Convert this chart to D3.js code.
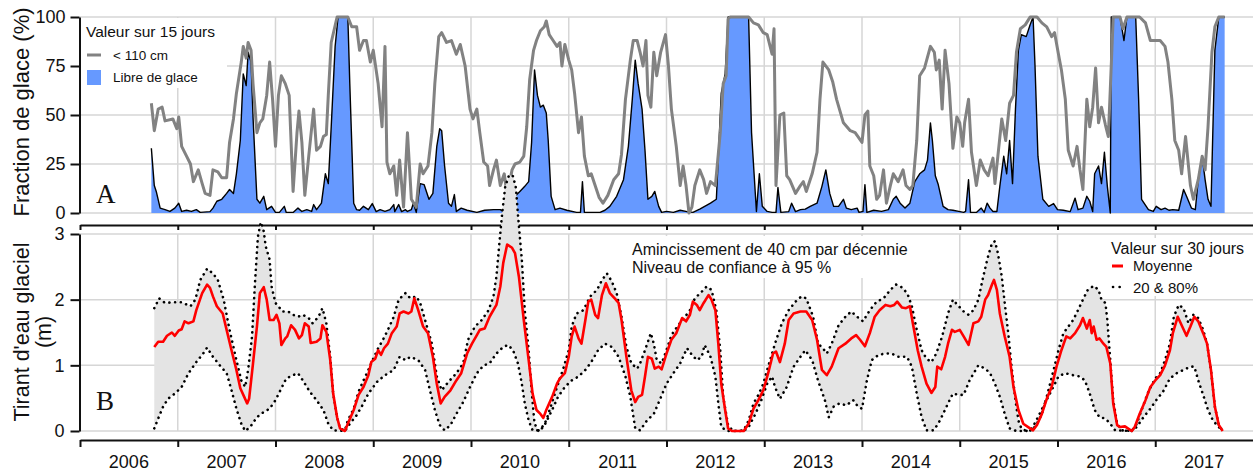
<!DOCTYPE html>
<html>
<head>
<meta charset="utf-8">
<script src="https://cdn.jsdelivr.net/npm/d3@7"></script>
<style>
  body { margin: 0; background: #fff; }
  svg { display: block; font-family: "Liberation Sans", Arial, sans-serif; }
</style>
</head>
<body>
<svg id="chart" width="1253" height="473"></svg>
<script>
// tick values
var pctTicks = [0, 25, 50, 75, 100];
var draftTicks = [0, 1, 2, 3];
var yearTicks = d3.range(2006, 2018);
var yearLabels = ["2006", "2007", "2008", "2009", "2010", "2011", "2012", "2013", "2014", "2015", "2016", "2017"];

// panel A : 15 day values, [decimal year, %]
var below110 = [[2006.73,56],[2006.76,42],[2006.80,53],[2006.84,54],[2006.87,47],[2006.95,48],[2006.99,43],[2007.01,49],[2007.04,34],[2007.09,29],[2007.13,25],[2007.16,16],[2007.21,22],[2007.25,15],[2007.28,10],[2007.33,9],[2007.36,22],[2007.41,21],[2007.45,18],[2007.50,18],[2007.53,36],[2007.57,48],[2007.60,61],[2007.65,77],[2007.67,85],[2007.70,79],[2007.72,87],[2007.75,83],[2007.77,66],[2007.81,41],[2007.84,46],[2007.87,48],[2007.91,60],[2007.94,77],[2007.97,58],[2008.00,34],[2008.03,60],[2008.06,70],[2008.10,66],[2008.14,60],[2008.18,11],[2008.22,41],[2008.24,52],[2008.27,36],[2008.30,9],[2008.34,29],[2008.39,53],[2008.42,32],[2008.46,34],[2008.49,39],[2008.52,40],[2008.54,60],[2008.57,87],[2008.63,100],[2008.74,100],[2008.78,95],[2008.83,95],[2008.86,83],[2008.90,88],[2008.93,88],[2008.97,77],[2009.00,83],[2009.05,66],[2009.09,44],[2009.12,85],[2009.14,26],[2009.17,20],[2009.21,24],[2009.24,9],[2009.27,27],[2009.31,3],[2009.35,41],[2009.39,7],[2009.44,3],[2009.48,25],[2009.51,20],[2009.56,24],[2009.60,41],[2009.63,66],[2009.67,90],[2009.70,92],[2009.75,87],[2009.80,88],[2009.85,81],[2009.89,86],[2009.94,75],[2009.99,53],[2010.02,48],[2010.06,53],[2010.09,41],[2010.13,26],[2010.17,24],[2010.19,14],[2010.23,22],[2010.26,27],[2010.30,14],[2010.34,20],[2010.37,9],[2010.42,22],[2010.45,25],[2010.50,26],[2010.54,29],[2010.57,44],[2010.60,68],[2010.64,83],[2010.67,88],[2010.71,93],[2010.75,95],[2010.77,98],[2010.80,91],[2010.84,88],[2010.88,85],[2010.91,87],[2010.93,75],[2010.96,86],[2011.00,78],[2011.03,73],[2011.06,61],[2011.10,41],[2011.13,49],[2011.16,29],[2011.20,19],[2011.23,20],[2011.27,14],[2011.31,8],[2011.35,5],[2011.40,9],[2011.46,17],[2011.51,20],[2011.54,30],[2011.58,58],[2011.63,78],[2011.66,88],[2011.70,88],[2011.73,82],[2011.76,75],[2011.79,88],[2011.81,60],[2011.84,54],[2011.87,82],[2011.90,70],[2011.94,82],[2011.99,91],[2012.02,75],[2012.05,53],[2012.10,34],[2012.14,14],[2012.17,24],[2012.20,14],[2012.23,0],[2012.26,3],[2012.29,14],[2012.34,22],[2012.38,17],[2012.41,10],[2012.45,16],[2012.50,14],[2012.55,41],[2012.58,66],[2012.61,70],[2012.63,99],[2012.65,100],[2012.84,100],[2012.89,97],[2012.94,96],[2012.99,92],[2013.03,91],[2013.06,85],[2013.08,81],[2013.10,94],[2013.12,14],[2013.16,50],[2013.20,51],[2013.23,19],[2013.26,17],[2013.32,10],[2013.37,14],[2013.40,16],[2013.43,11],[2013.49,20],[2013.54,31],[2013.57,58],[2013.60,77],[2013.66,73],[2013.70,67],[2013.74,58],[2013.81,46],[2013.88,42],[2013.93,41],[2014.00,36],[2014.03,50],[2014.06,52],[2014.08,24],[2014.12,19],[2014.15,7],[2014.18,9],[2014.22,22],[2014.25,5],[2014.29,14],[2014.32,20],[2014.37,16],[2014.42,22],[2014.45,14],[2014.49,12],[2014.52,14],[2014.56,37],[2014.59,70],[2014.64,74],[2014.70,85],[2014.74,82],[2014.76,73],[2014.79,78],[2014.82,53],[2014.85,83],[2014.89,66],[2014.93,33],[2014.97,49],[2015.00,46],[2015.03,34],[2015.05,46],[2015.09,58],[2015.12,31],[2015.17,14],[2015.21,27],[2015.25,22],[2015.29,19],[2015.34,28],[2015.36,15],[2015.39,29],[2015.43,48],[2015.47,37],[2015.51,56],[2015.55,60],[2015.58,82],[2015.62,94],[2015.67,96],[2015.72,100],[2015.79,100],[2015.84,97],[2015.89,95],[2015.94,90],[2015.97,92],[2016.01,81],[2016.04,73],[2016.08,58],[2016.11,32],[2016.16,24],[2016.20,34],[2016.23,22],[2016.26,12],[2016.30,58],[2016.33,44],[2016.36,54],[2016.39,74],[2016.42,46],[2016.45,54],[2016.49,45],[2016.52,39],[2016.54,63],[2016.57,100],[2016.64,100],[2016.67,94],[2016.71,100],[2016.84,100],[2016.90,97],[2016.95,88],[2017.00,88],[2017.05,88],[2017.10,85],[2017.13,77],[2017.17,58],[2017.20,37],[2017.24,32],[2017.27,20],[2017.31,39],[2017.36,14],[2017.39,7],[2017.44,17],[2017.48,29],[2017.51,22],[2017.54,44],[2017.58,82],[2017.61,95],[2017.65,100],[2017.71,100]];

var iceFree = [[2006.73,33],[2006.76,14],[2006.78,11],[2006.82,2.5],[2006.87,1.7],[2006.92,0.8],[2006.97,2.5],[2007.01,5],[2007.04,0.8],[2007.09,1.4],[2007.14,0.8],[2007.19,1.7],[2007.23,0.3],[2007.33,0.7],[2007.36,2.5],[2007.40,6],[2007.45,7],[2007.50,10],[2007.53,12],[2007.57,10],[2007.60,20],[2007.64,37],[2007.67,71],[2007.70,65],[2007.72,82],[2007.75,77],[2007.77,49],[2007.81,7],[2007.84,5],[2007.88,8.5],[2007.91,1.7],[2007.96,3.4],[2008.00,0.3],[2008.04,0.3],[2008.09,3.4],[2008.11,0.3],[2008.18,0.3],[2008.23,2.5],[2008.27,0.8],[2008.32,1.7],[2008.37,0.8],[2008.39,4.3],[2008.42,1.7],[2008.47,5],[2008.51,20],[2008.54,15],[2008.57,44],[2008.61,85],[2008.64,100],[2008.74,100],[2008.76,66],[2008.80,5],[2008.83,1.7],[2008.86,1.4],[2008.90,3.4],[2008.95,1.7],[2008.99,4.8],[2009.03,0.7],[2009.07,1.7],[2009.12,0.8],[2009.17,1.7],[2009.21,4.3],[2009.22,0.7],[2009.26,4.3],[2009.29,0.7],[2009.33,1.7],[2009.35,0.8],[2009.39,1.7],[2009.41,5],[2009.44,0.3],[2009.48,15],[2009.52,14.5],[2009.57,7],[2009.61,10],[2009.65,34],[2009.68,43],[2009.70,42],[2009.73,24],[2009.77,5],[2009.80,3.4],[2009.83,9.4],[2009.85,0.8],[2009.90,2.5],[2009.96,1.4],[2010.06,0.3],[2010.14,1.4],[2010.23,1.7],[2010.30,1.7],[2010.33,0.7],[2010.40,5],[2010.45,8.5],[2010.50,11],[2010.55,13.6],[2010.59,16],[2010.62,36],[2010.65,73],[2010.68,60],[2010.71,54],[2010.74,55],[2010.77,51],[2010.79,37],[2010.82,8.5],[2010.86,1.7],[2010.91,2.5],[2010.98,1.4],[2011.08,0.3],[2011.12,0.3],[2011.14,16],[2011.16,0.3],[2011.32,0.3],[2011.37,1.4],[2011.42,3.4],[2011.49,8.5],[2011.56,17],[2011.61,34],[2011.65,58],[2011.68,78],[2011.71,66],[2011.75,53],[2011.78,32],[2011.81,7],[2011.85,8.5],[2011.88,11],[2011.92,3.4],[2011.95,0.3],[2012.00,0.8],[2012.07,0.3],[2012.14,1.4],[2012.21,0.7],[2012.27,0.3],[2012.34,2],[2012.45,5],[2012.51,7],[2012.56,61],[2012.60,71],[2012.63,100],[2012.84,100],[2012.87,41],[2012.92,0.8],[2012.95,20],[2012.98,3.4],[2013.03,0.8],[2013.08,0.3],[2013.12,0.3],[2013.14,13],[2013.17,0.3],[2013.25,0.7],[2013.28,5],[2013.32,0.7],[2013.37,1.7],[2013.42,2],[2013.47,3.4],[2013.54,5],[2013.59,13.6],[2013.63,22],[2013.67,10],[2013.71,3.4],[2013.76,3.4],[2013.81,7],[2013.84,2.5],[2013.89,1.7],[2013.95,2.5],[2013.97,0.3],[2014.01,0.8],[2014.03,14.5],[2014.05,0.3],[2014.12,1.4],[2014.20,0.8],[2014.27,1.7],[2014.32,7],[2014.35,8.5],[2014.39,5],[2014.44,2.5],[2014.49,5],[2014.54,16],[2014.59,20],[2014.64,22],[2014.67,27],[2014.70,46],[2014.72,37],[2014.75,19],[2014.78,14.5],[2014.83,3.4],[2014.88,1.7],[2014.93,1.4],[2014.99,0.8],[2015.04,0.3],[2015.06,0.8],[2015.09,17],[2015.11,0.3],[2015.17,0.3],[2015.22,2.5],[2015.25,0.3],[2015.28,5],[2015.31,2.5],[2015.34,0.8],[2015.38,0.8],[2015.41,13.6],[2015.45,29],[2015.48,20],[2015.51,37],[2015.54,15],[2015.57,53],[2015.60,83],[2015.63,91],[2015.68,90],[2015.72,96],[2015.75,100],[2015.77,75],[2015.80,29],[2015.85,7],[2015.91,3.4],[2015.96,4.8],[2016.00,1.7],[2016.06,1.4],[2016.13,0.7],[2016.18,7.6],[2016.21,1.7],[2016.26,2.5],[2016.30,8.5],[2016.33,6],[2016.36,0.7],[2016.38,20],[2016.42,24],[2016.45,15],[2016.48,31],[2016.51,13.6],[2016.54,0],[2016.55,100],[2016.64,100],[2016.68,88],[2016.71,100],[2016.80,100],[2016.83,58],[2016.86,7],[2016.93,1.7],[2016.98,0.8],[2017.01,3.4],[2017.06,1.7],[2017.10,2.5],[2017.14,1.4],[2017.18,1.7],[2017.24,1.4],[2017.29,12],[2017.32,8.5],[2017.37,2.5],[2017.41,1.7],[2017.44,17],[2017.48,29],[2017.51,17],[2017.54,7],[2017.57,3.4],[2017.61,83],[2017.65,100],[2017.71,100]];

// panel B : 30 day draft, [decimal year, m]
var draftMean = [[2006.76,1.28],[2006.80,1.36],[2006.85,1.36],[2006.89,1.45],[2006.94,1.50],[2006.97,1.45],[2007.01,1.53],[2007.04,1.55],[2007.07,1.67],[2007.11,1.64],[2007.16,1.67],[2007.19,1.84],[2007.25,2.10],[2007.30,2.23],[2007.33,2.18],[2007.36,2.05],[2007.40,1.90],[2007.46,1.79],[2007.50,1.54],[2007.55,1.23],[2007.60,0.93],[2007.64,0.65],[2007.68,0.52],[2007.71,0.42],[2007.73,0.49],[2007.77,1.03],[2007.81,1.59],[2007.84,2.10],[2007.88,2.19],[2007.91,2.00],[2007.94,1.69],[2007.98,1.69],[2008.01,1.77],[2008.04,1.64],[2008.06,1.31],[2008.10,1.41],[2008.12,1.44],[2008.16,1.61],[2008.20,1.54],[2008.24,1.41],[2008.27,1.46],[2008.30,1.64],[2008.34,1.59],[2008.36,1.34],[2008.42,1.36],[2008.46,1.41],[2008.48,1.61],[2008.52,1.51],[2008.56,1.08],[2008.59,0.57],[2008.63,0.21],[2008.66,0.04],[2008.71,0],[2008.74,0.11],[2008.80,0.32],[2008.85,0.55],[2008.90,0.67],[2008.95,0.85],[2008.98,1.05],[2009.02,1.10],[2009.05,1.23],[2009.08,1.16],[2009.11,1.26],[2009.15,1.33],[2009.19,1.49],[2009.24,1.59],[2009.27,1.79],[2009.31,1.82],[2009.36,1.79],[2009.39,1.82],[2009.42,2.02],[2009.46,1.84],[2009.51,1.59],[2009.56,1.49],[2009.61,1.13],[2009.65,0.72],[2009.69,0.42],[2009.73,0.52],[2009.79,0.62],[2009.85,0.77],[2009.90,0.88],[2009.96,1.18],[2010.01,1.33],[2010.06,1.46],[2010.09,1.54],[2010.14,1.56],[2010.19,1.74],[2010.26,1.92],[2010.30,2.20],[2010.33,2.56],[2010.37,2.84],[2010.42,2.79],[2010.45,2.71],[2010.49,2.35],[2010.54,1.69],[2010.59,1.08],[2010.63,0.57],[2010.67,0.32],[2010.71,0.26],[2010.74,0.20],[2010.77,0.32],[2010.83,0.52],[2010.88,0.72],[2010.91,0.80],[2010.96,0.88],[2011.00,1.13],[2011.03,1.44],[2011.06,1.59],[2011.10,1.41],[2011.13,1.33],[2011.17,1.69],[2011.20,1.97],[2011.23,2.00],[2011.27,1.77],[2011.30,1.72],[2011.34,2.07],[2011.38,2.25],[2011.42,2.10],[2011.47,2.02],[2011.51,1.95],[2011.54,1.69],[2011.59,1.13],[2011.64,0.62],[2011.68,0.44],[2011.71,0.52],[2011.75,0.55],[2011.78,0.83],[2011.81,1.13],[2011.85,1.10],[2011.88,0.95],[2011.92,0.98],[2011.95,0.94],[2012.00,1.18],[2012.05,1.39],[2012.10,1.49],[2012.16,1.72],[2012.20,1.67],[2012.24,1.77],[2012.27,1.97],[2012.31,1.92],[2012.34,1.84],[2012.38,1.95],[2012.43,2.07],[2012.46,2.00],[2012.50,1.84],[2012.53,1.33],[2012.56,0.72],[2012.60,0.32],[2012.63,0.04],[2012.67,0],[2012.79,0],[2012.84,0.11],[2012.89,0.34],[2012.94,0.47],[2012.99,0.62],[2013.04,0.88],[2013.09,1.18],[2013.12,1.21],[2013.16,1.05],[2013.21,1.33],[2013.25,1.69],[2013.30,1.79],[2013.37,1.82],[2013.43,1.82],[2013.49,1.69],[2013.54,1.39],[2013.59,0.93],[2013.64,0.85],[2013.69,0.98],[2013.76,1.26],[2013.83,1.33],[2013.89,1.41],[2013.94,1.46],[2013.98,1.39],[2014.03,1.29],[2014.08,1.49],[2014.13,1.74],[2014.18,1.84],[2014.24,1.92],[2014.29,1.90],[2014.33,1.92],[2014.36,1.97],[2014.41,1.88],[2014.45,1.87],[2014.49,1.90],[2014.52,1.64],[2014.57,1.23],[2014.61,0.98],[2014.66,0.72],[2014.71,0.58],[2014.75,0.67],[2014.77,0.98],[2014.81,0.94],[2014.85,1.13],[2014.88,1.33],[2014.92,1.54],[2014.95,1.51],[2015.00,1.54],[2015.04,1.44],[2015.09,1.31],[2015.14,1.64],[2015.19,1.67],[2015.22,1.74],[2015.26,2.00],[2015.29,2.07],[2015.33,2.23],[2015.35,2.30],[2015.38,2.15],[2015.41,1.79],[2015.46,1.44],[2015.51,1.13],[2015.55,0.67],[2015.60,0.32],[2015.65,0.11],[2015.70,0.06],[2015.75,0.01],[2015.79,0.09],[2015.84,0.26],[2015.89,0.49],[2015.94,0.67],[2015.99,0.98],[2016.04,1.23],[2016.09,1.44],[2016.13,1.41],[2016.18,1.49],[2016.23,1.61],[2016.26,1.72],[2016.30,1.56],[2016.33,1.69],[2016.35,1.49],[2016.37,1.59],[2016.40,1.39],[2016.43,1.41],[2016.47,1.33],[2016.50,1.28],[2016.54,1.03],[2016.57,0.42],[2016.61,0.09],[2016.64,0.06],[2016.69,0.07],[2016.72,0.04],[2016.76,0],[2016.79,0.06],[2016.84,0.26],[2016.90,0.47],[2016.95,0.67],[2017.00,0.77],[2017.05,0.85],[2017.10,1.00],[2017.15,1.23],[2017.18,1.49],[2017.23,1.74],[2017.27,1.61],[2017.32,1.45],[2017.36,1.59],[2017.40,1.74],[2017.44,1.67],[2017.49,1.49],[2017.53,1.33],[2017.57,0.93],[2017.61,0.37],[2017.65,0.09],[2017.69,0]];

var draftP80 = [[2006.76,1.87],[2006.81,2.02],[2006.87,1.95],[2006.95,1.96],[2007.04,1.96],[2007.13,1.90],[2007.18,2.00],[2007.23,2.30],[2007.30,2.47],[2007.36,2.40],[2007.41,2.30],[2007.47,2.00],[2007.53,1.54],[2007.60,1.08],[2007.65,0.77],[2007.69,0.67],[2007.72,0.93],[2007.76,1.44],[2007.79,2.25],[2007.82,2.96],[2007.85,3.18],[2007.88,3.04],[2007.90,2.81],[2007.94,2.61],[2007.96,2.20],[2008.00,1.95],[2008.03,1.90],[2008.07,1.82],[2008.13,1.82],[2008.18,1.77],[2008.23,1.74],[2008.28,1.77],[2008.34,1.72],[2008.38,1.64],[2008.44,1.74],[2008.48,1.87],[2008.52,1.64],[2008.56,1.13],[2008.59,0.57],[2008.63,0.21],[2008.66,0.04],[2008.71,0.01],[2008.74,0.16],[2008.80,0.34],[2008.85,0.60],[2008.90,0.77],[2008.95,0.93],[2009.00,1.10],[2009.05,1.26],[2009.10,1.39],[2009.15,1.54],[2009.21,1.74],[2009.26,2.00],[2009.33,2.10],[2009.38,2.02],[2009.44,2.05],[2009.48,1.95],[2009.53,1.69],[2009.60,1.33],[2009.65,0.83],[2009.70,0.62],[2009.77,0.75],[2009.85,0.88],[2009.92,1.03],[2009.97,1.39],[2010.04,1.59],[2010.11,1.69],[2010.18,1.84],[2010.23,2.05],[2010.26,2.35],[2010.29,2.86],[2010.32,3.33],[2010.35,3.72],[2010.39,3.90],[2010.43,3.88],[2010.46,3.70],[2010.48,3.30],[2010.52,2.61],[2010.55,1.84],[2010.59,1.23],[2010.62,0.62],[2010.65,0.11],[2010.69,0.01],[2010.72,0.04],[2010.77,0.16],[2010.83,0.44],[2010.88,0.67],[2010.94,0.93],[2011.00,1.23],[2011.03,1.59],[2011.08,1.79],[2011.15,1.84],[2011.22,2.05],[2011.29,2.15],[2011.34,2.30],[2011.39,2.40],[2011.44,2.28],[2011.49,2.10],[2011.54,1.74],[2011.59,1.28],[2011.64,1.03],[2011.70,0.95],[2011.73,1.03],[2011.78,1.23],[2011.81,1.36],[2011.84,1.49],[2011.87,1.33],[2011.90,1.08],[2011.95,1.03],[2012.00,1.23],[2012.05,1.46],[2012.12,1.61],[2012.19,1.74],[2012.24,1.84],[2012.29,2.02],[2012.36,2.12],[2012.41,2.20],[2012.46,2.15],[2012.51,1.84],[2012.55,1.23],[2012.58,0.52],[2012.63,0.09],[2012.68,0],[2012.79,0.01],[2012.84,0.16],[2012.89,0.42],[2012.94,0.55],[2012.99,0.72],[2013.04,0.98],[2013.11,1.33],[2013.18,1.64],[2013.25,1.84],[2013.32,1.97],[2013.38,2.05],[2013.43,2.02],[2013.50,1.74],[2013.55,1.33],[2013.60,1.26],[2013.64,1.18],[2013.69,1.33],[2013.76,1.61],[2013.83,1.74],[2013.89,1.82],[2013.95,1.74],[2014.01,1.67],[2014.08,1.84],[2014.15,1.97],[2014.22,2.02],[2014.29,2.15],[2014.35,2.23],[2014.42,2.18],[2014.47,2.07],[2014.51,1.90],[2014.56,1.54],[2014.61,1.23],[2014.66,1.10],[2014.71,1.05],[2014.76,1.18],[2014.82,1.44],[2014.88,1.79],[2014.93,2.00],[2014.99,1.90],[2015.04,1.82],[2015.09,1.77],[2015.14,1.84],[2015.19,2.00],[2015.24,2.35],[2015.29,2.66],[2015.33,2.86],[2015.36,2.89],[2015.39,2.71],[2015.43,2.35],[2015.46,1.95],[2015.50,1.44],[2015.53,0.98],[2015.57,0.47],[2015.60,0.16],[2015.63,0.04],[2015.68,0],[2015.74,0.01],[2015.79,0.11],[2015.84,0.26],[2015.89,0.52],[2015.96,0.93],[2016.01,1.23],[2016.06,1.49],[2016.11,1.59],[2016.16,1.69],[2016.21,1.84],[2016.26,2.00],[2016.31,2.15],[2016.37,2.21],[2016.42,2.15],[2016.45,2.00],[2016.49,1.95],[2016.51,1.69],[2016.54,1.08],[2016.57,0.47],[2016.61,0.11],[2016.66,0.01],[2016.76,0],[2016.81,0.11],[2016.86,0.32],[2016.93,0.60],[2017.00,0.80],[2017.05,0.88],[2017.10,1.08],[2017.15,1.33],[2017.19,1.74],[2017.24,1.92],[2017.29,1.87],[2017.34,1.64],[2017.39,1.77],[2017.44,1.72],[2017.49,1.54],[2017.53,1.33],[2017.57,0.93],[2017.61,0.37],[2017.65,0.09],[2017.69,0]];

var draftP20 = [[2006.76,0.04],[2006.80,0.19],[2006.85,0.37],[2006.90,0.49],[2006.97,0.57],[2007.04,0.67],[2007.11,0.88],[2007.19,1.05],[2007.26,1.18],[2007.30,1.27],[2007.36,1.13],[2007.43,1.00],[2007.50,0.88],[2007.55,0.62],[2007.60,0.34],[2007.65,0.11],[2007.69,0],[2007.74,0.06],[2007.81,0.21],[2007.88,0.29],[2007.94,0.34],[2008.00,0.47],[2008.05,0.62],[2008.11,0.80],[2008.18,0.85],[2008.23,0.88],[2008.28,0.77],[2008.35,0.60],[2008.42,0.47],[2008.49,0.32],[2008.54,0.11],[2008.59,0.01],[2008.71,0],[2008.76,0.11],[2008.83,0.24],[2008.90,0.42],[2008.95,0.57],[2009.04,0.75],[2009.12,0.85],[2009.21,0.93],[2009.27,1.13],[2009.33,1.08],[2009.38,1.13],[2009.46,1.08],[2009.53,0.93],[2009.58,0.62],[2009.63,0.32],[2009.68,0.09],[2009.73,0.01],[2009.79,0.09],[2009.85,0.26],[2009.92,0.44],[2009.99,0.67],[2010.06,0.88],[2010.13,1.00],[2010.19,1.03],[2010.26,1.18],[2010.33,1.28],[2010.38,1.31],[2010.43,1.23],[2010.48,1.03],[2010.52,0.72],[2010.55,0.42],[2010.59,0.16],[2010.63,0.01],[2010.71,0.01],[2010.76,0.11],[2010.83,0.32],[2010.89,0.52],[2010.96,0.67],[2011.03,0.77],[2011.10,0.83],[2011.17,0.93],[2011.23,1.05],[2011.30,1.23],[2011.37,1.33],[2011.44,1.28],[2011.51,1.13],[2011.58,0.83],[2011.63,0.52],[2011.68,0.04],[2011.73,0.01],[2011.80,0.16],[2011.87,0.26],[2011.93,0.47],[2012.00,0.72],[2012.07,0.88],[2012.14,1.03],[2012.21,1.26],[2012.26,1.16],[2012.31,1.08],[2012.36,1.13],[2012.39,1.31],[2012.45,1.13],[2012.50,0.83],[2012.53,0.42],[2012.56,0.06],[2012.62,0],[2012.79,0],[2012.84,0.06],[2012.91,0.26],[2012.97,0.47],[2013.03,0.72],[2013.08,0.83],[2013.11,0.67],[2013.16,0.49],[2013.23,0.67],[2013.30,0.98],[2013.37,1.13],[2013.42,1.23],[2013.49,1.08],[2013.55,0.77],[2013.62,0.47],[2013.66,0.21],[2013.71,0.37],[2013.77,0.42],[2013.84,0.39],[2013.91,0.47],[2013.96,0.37],[2014.00,0.34],[2014.05,0.77],[2014.10,1.08],[2014.17,1.16],[2014.24,1.18],[2014.30,1.18],[2014.37,1.13],[2014.46,1.13],[2014.51,0.98],[2014.56,0.57],[2014.61,0.21],[2014.66,0.01],[2014.73,0.01],[2014.78,0.11],[2014.83,0.26],[2014.88,0.42],[2014.93,0.57],[2014.99,0.55],[2015.04,0.55],[2015.10,0.77],[2015.19,1.00],[2015.26,0.95],[2015.31,0.88],[2015.36,0.72],[2015.41,0.52],[2015.46,0.26],[2015.51,0.04],[2015.58,0],[2015.68,0],[2015.74,0.04],[2015.80,0.21],[2015.87,0.42],[2015.94,0.62],[2016.01,0.83],[2016.08,0.88],[2016.16,0.85],[2016.23,0.83],[2016.28,0.77],[2016.33,0.57],[2016.38,0.32],[2016.43,0.21],[2016.49,0.19],[2016.54,0.11],[2016.59,0.01],[2016.76,0],[2016.81,0.06],[2016.88,0.21],[2016.95,0.34],[2017.01,0.47],[2017.08,0.60],[2017.15,0.80],[2017.22,0.88],[2017.29,0.93],[2017.36,0.98],[2017.40,0.98],[2017.44,0.77],[2017.49,0.55],[2017.54,0.32],[2017.59,0.16],[2017.65,0.06],[2017.69,0]];

// layout
var W = 1253;
var x = d3.scaleLinear().domain([2006, 2018]).range([80, 1253]);
var yA = d3.scaleLinear().domain([0, 100]).range([213, 17]);
var yB = d3.scaleLinear().domain([0, 3]).range([431, 234]);

var svg = d3.select("#chart");
var ink = "#111";

// gridlines
var grid = svg.append("g").attr("stroke", "#d6d6d6").attr("stroke-width", 1.5);
pctTicks.forEach(function (v) {
  grid.append("line").attr("x1", 80).attr("x2", W).attr("y1", yA(v)).attr("y2", yA(v));
});
draftTicks.forEach(function (v) {
  grid.append("line").attr("x1", 80).attr("x2", W).attr("y1", yB(v)).attr("y2", yB(v));
});
yearTicks.slice(1).forEach(function (yr) {
  grid.append("line").attr("x1", x(yr)).attr("x2", x(yr)).attr("y1", yA(100)).attr("y2", yA(0));
  grid.append("line").attr("x1", x(yr)).attr("x2", x(yr)).attr("y1", yB(3)).attr("y2", yB(0));
});

// white boxes behind legends / note
svg.append("rect").attr("x", 81).attr("y", 18).attr("width", 146).attr("height", 70).attr("fill", "#fff");
svg.append("rect").attr("x", 628).attr("y", 236).attr("width", 262).attr("height", 42).attr("fill", "#fff");
svg.append("rect").attr("x", 1106).attr("y", 238).attr("width", 147).attr("height", 58).attr("fill", "#fff");

// axes
function styleAxis(g, fs) {
  g.select(".domain").attr("stroke", ink).attr("stroke-width", 2);
  g.selectAll(".tick line").attr("stroke", ink).attr("stroke-width", 2);
  g.selectAll(".tick text").attr("fill", ink).style("font-size", fs + "px")
    .style("font-family", '"Liberation Sans", Arial, sans-serif');
}

svg.append("g").attr("transform", "translate(79.5,0)")
  .call(d3.axisLeft(yA).tickValues(pctTicks).tickSize(9).tickSizeOuter(0).tickPadding(5))
  .call(styleAxis, 18);

svg.append("g").attr("transform", "translate(79.5,0)")
  .call(d3.axisLeft(yB).tickValues(draftTicks).tickFormat(d3.format("d")).tickSize(9).tickSizeOuter(0).tickPadding(6))
  .call(styleAxis, 18);

svg.append("g").attr("transform", "translate(0,225)")
  .call(d3.axisBottom(x).tickValues(yearTicks).tickSize(5).tickSizeOuter(0).tickFormat(""))
  .call(styleAxis, 18);

svg.append("g").attr("transform", "translate(0,440)")
  .call(d3.axisBottom(x).tickValues(yearTicks).tickSize(7).tickSizeOuter(0).tickFormat(""))
  .call(styleAxis, 18);

svg.append("g").selectAll("text")
  .data(yearLabels)
  .enter()
  .append("text")
  .attr("x", function (d, i) { return x(yearTicks[i] + 0.5); })
  .attr("y", 468)
  .attr("text-anchor", "middle")
  .attr("fill", ink)
  .style("font-size", "18px")
  .text(function (d) { return d; });

// axis titles
svg.append("text")
  .attr("transform", "translate(29,112) rotate(-90)")
  .attr("text-anchor", "middle").attr("fill", ink).style("font-size", "22px")
  .text("Fraction de glace (%)");
svg.append("text")
  .attr("transform", "translate(29,332) rotate(-90)")
  .attr("text-anchor", "middle").attr("fill", ink).style("font-size", "21.5px")
  .text("Tirant d'eau glaciel");
svg.append("text")
  .attr("transform", "translate(51,332) rotate(-90)")
  .attr("text-anchor", "middle").attr("fill", ink).style("font-size", "21.5px")
  .text("(m)");

// panel letters
svg.append("text").attr("x", 96).attr("y", 203).attr("fill", ink)
  .style("font-family", '"Liberation Serif", "Times New Roman", serif').style("font-size", "27px").text("A");
svg.append("text").attr("x", 96).attr("y", 410).attr("fill", ink)
  .style("font-family", '"Liberation Serif", "Times New Roman", serif').style("font-size", "27px").text("B");

// panel A data
svg.append("path")
  .datum(iceFree)
  .attr("fill", "#6699ff")
  .attr("d", d3.area().x(function (d) { return x(d[0]); }).y0(yA(0)).y1(function (d) { return yA(d[1]); }));
svg.append("path")
  .datum(iceFree)
  .attr("fill", "none").attr("stroke", "#000").attr("stroke-width", 1.4).attr("stroke-linejoin", "round")
  .attr("d", d3.line().x(function (d) { return x(d[0]); }).y(function (d) { return yA(d[1]); }));
svg.append("path")
  .datum(below110)
  .attr("fill", "none").attr("stroke", "#828282").attr("stroke-width", 3).attr("stroke-linejoin", "round")
  .attr("d", d3.line().x(function (d) { return x(d[0]); }).y(function (d) { return yA(d[1]); }));

// panel B data
var lineB = d3.line().x(function (d) { return x(d[0]); }).y(function (d) { return yB(d[1]); });
svg.append("path")
  .attr("fill", "#e4e4e4")
  .attr("d", lineB(draftP80.concat(draftP20.slice().reverse())) + "Z");
[draftP80, draftP20].forEach(function (s) {
  svg.append("path")
    .datum(s)
    .attr("fill", "none").attr("stroke", "#000").attr("stroke-width", 2.6)
    .attr("stroke-linecap", "round").attr("stroke-dasharray", "0.1,5.6")
    .attr("d", lineB);
});
svg.append("path")
  .datum(draftMean)
  .attr("fill", "none").attr("stroke", "#ff0000").attr("stroke-width", 2.6).attr("stroke-linejoin", "round")
  .attr("d", lineB);

// legend A
svg.append("text").attr("x", 86).attr("y", 37).attr("fill", ink).style("font-size", "15.5px").text("Valeur sur 15 jours");
svg.append("line").attr("x1", 87).attr("x2", 101).attr("y1", 55).attr("y2", 55)
  .attr("stroke", "#828282").attr("stroke-width", 3);
svg.append("text").attr("x", 113).attr("y", 59.5).attr("fill", ink).style("font-size", "13.5px").text("< 110 cm");
svg.append("rect").attr("x", 87).attr("y", 70).attr("width", 14).attr("height", 15).attr("fill", "#6699ff");
svg.append("text").attr("x", 113).attr("y", 82).attr("fill", ink).style("font-size", "13.5px").text("Libre de glace");

// note
svg.append("text").attr("x", 632).attr("y", 255).attr("fill", ink).style("font-size", "16px")
  .text("Amincissement de 40 cm par décennie");
svg.append("text").attr("x", 632).attr("y", 273).attr("fill", ink).style("font-size", "16px")
  .text("Niveau de confiance à 95 %");

// legend B
svg.append("text").attr("x", 1111).attr("y", 254).attr("fill", ink).style("font-size", "16px").text("Valeur sur 30 jours");
svg.append("line").attr("x1", 1112).attr("x2", 1123).attr("y1", 266).attr("y2", 266)
  .attr("stroke", "#ff0000").attr("stroke-width", 3);
svg.append("text").attr("x", 1133).attr("y", 270.5).attr("fill", ink).style("font-size", "14.5px").text("Moyenne");
svg.append("line").attr("x1", 1113).attr("x2", 1124).attr("y1", 287).attr("y2", 287)
  .attr("stroke", "#000").attr("stroke-width", 2.6).attr("stroke-linecap", "round").attr("stroke-dasharray", "0.1,6.5");
svg.append("text").attr("x", 1133).attr("y", 292.5).attr("fill", ink).style("font-size", "15px").text("20 & 80%");
</script>
</body>
</html>
